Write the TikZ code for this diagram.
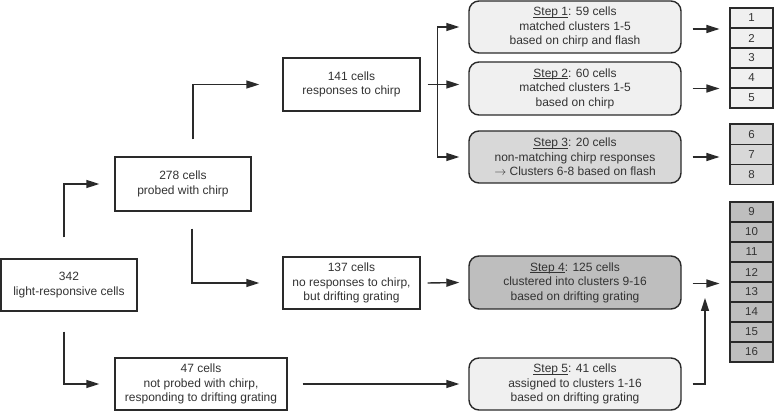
\documentclass[tikz,border=0pt]{standalone}
\usepackage{fontspec}
\setmainfont{Liberation Sans}
\usetikzlibrary{arrows.meta,calc}
\definecolor{lightfill}{HTML}{F0F0F0}
\definecolor{midfill}{HTML}{D8D8D8}
\definecolor{darkfill}{HTML}{BEBEBE}
\definecolor{ink}{HTML}{2A2A2A}
\definecolor{txt}{HTML}{333333}
\newcommand\stepul[1]{\underline{\smash{#1}}}
\tikzset{
  box/.style={draw=ink, line width=1.4pt, fill=white, align=center, text=txt,
    inner sep=0pt, font=\fontsize{12}{14.5}\selectfont},
  stepbox/.style={box, rounded corners=10pt, minimum width=212pt},
  cell/.style={draw=ink, line width=1.1pt, minimum width=43pt, inner sep=0pt,
    text=txt, font=\fontsize{11.5}{12}\selectfont},
  conn/.style={draw=ink, line width=1.4pt},
  arr/.style={conn, -{Triangle[length=13pt,width=8pt]}},
}
\begin{document}
\begin{tikzpicture}[x=1pt,y=-1pt]
\useasboundingbox (0,0) rectangle (774,411);
\fill[white] (0,0) rectangle (774,411);

% left boxes
\node[box, minimum width=136pt, minimum height=52pt] (n342) at (69,285) {342\\light-responsive cells};
\node[box, minimum width=136pt, minimum height=54pt] (n278) at (183,184) {278 cells\\probed with chirp};
\node[box, minimum width=137pt, minimum height=53pt] (n141) at (351.5,84.5) {141 cells\\responses to chirp};
\node[box, minimum width=137pt, minimum height=52pt] (n137) at (351.5,283) {137 cells\\no responses to chirp,\\but drifting grating};
\node[box, minimum width=172pt, minimum height=52pt] (n47) at (201,384) {47 cells\\not probed with chirp,\\responding to drifting grating};

% step boxes
\node[stepbox, fill=lightfill, minimum height=52pt] (s1) at (575,27) {\stepul{Step 1}: 59 cells\\matched clusters 1-5\\based on chirp and flash};
\node[stepbox, fill=lightfill, minimum height=53pt] (s2) at (575,88.5) {\stepul{Step 2}: 60 cells\\matched clusters 1-5\\based on chirp};
\node[stepbox, fill=midfill, minimum height=52pt] (s3) at (575,157) {\stepul{Step 3}: 20 cells\\non-matching chirp responses\\$\rightarrow$ Clusters 6-8 based on flash};
\node[stepbox, fill=darkfill, minimum height=53pt] (s4) at (575,282.5) {\stepul{Step 4}: 125 cells\\clustered into clusters 9-16\\based on drifting grating};
\node[stepbox, fill=lightfill, minimum height=52pt] (s5) at (575,384) {\stepul{Step 5}: 41 cells\\assigned to clusters 1-16\\based on drifting grating};

% cluster cells
\foreach \i in {1,...,5} {
  \node[cell, fill=lightfill, minimum height=20pt] (c\i) at (751.5,{-2+20*\i}) {\i};
}
\foreach \i/\y in {6/134.2,7/154.5,8/174.8} {
  \node[cell, fill=midfill, minimum height=20.3pt] (c\i) at (751.5,\y) {\i};
}
\foreach \i in {9,...,16} {
  \node[cell, fill=darkfill, minimum height=20pt] (c\i) at (751.5,{212+20*(\i-9)}) {\i};
}

% connectors
\draw[arr] ([xshift=-5pt,yshift=21pt]n342.north) |- ([xshift=-15pt]n278.west);
\draw[arr] ([xshift=-5pt,yshift=-20pt]n342.south) |- ([xshift=-15pt]n47.west);
\draw[arr] ([xshift=10pt,yshift=17pt]n278.north) |- ([xshift=-23pt]n141.west);
\draw[arr] ([xshift=9pt,yshift=-17pt]n278.south) |- ([xshift=-23pt]n137.west);

\coordinate (br) at ([xshift=17pt]n141.east);
\draw[conn] ([xshift=7pt]n141.east) -- (br);
\draw[arr] (br) |- ([xshift=-9pt]s1.west);
\draw[arr] (br) -- ([xshift=-9pt]s2.west |- br);
\draw[arr] (br) |- ([xshift=-9pt]s3.west);

\draw[arr] ([xshift=7pt]n137.east) -- ([xshift=-9pt]s4.west);
\draw[arr] ([xshift=15pt]n47.east) -- ([xshift=-9pt]s5.west);

\draw[arr] ([xshift=11pt,yshift=-2pt]s1.east) -- ([xshift=-10pt,yshift=-2pt]s1.east -| c1.west);
\draw[arr] ([xshift=11pt]s2.east) -- ([xshift=-10pt]s2.east -| c1.west);
\draw[arr] ([xshift=11pt]s3.east) -- ([xshift=-10pt]s3.east -| c6.west);
\draw[arr] ([xshift=11pt,yshift=-1pt]s4.east) -- ([xshift=-10pt,yshift=-1pt]s4.east -| c9.west);
\coordinate (upend) at (705,298);
\draw[arr] ([xshift=11pt]s5.east) -| (upend);
\end{tikzpicture}
\end{document}
